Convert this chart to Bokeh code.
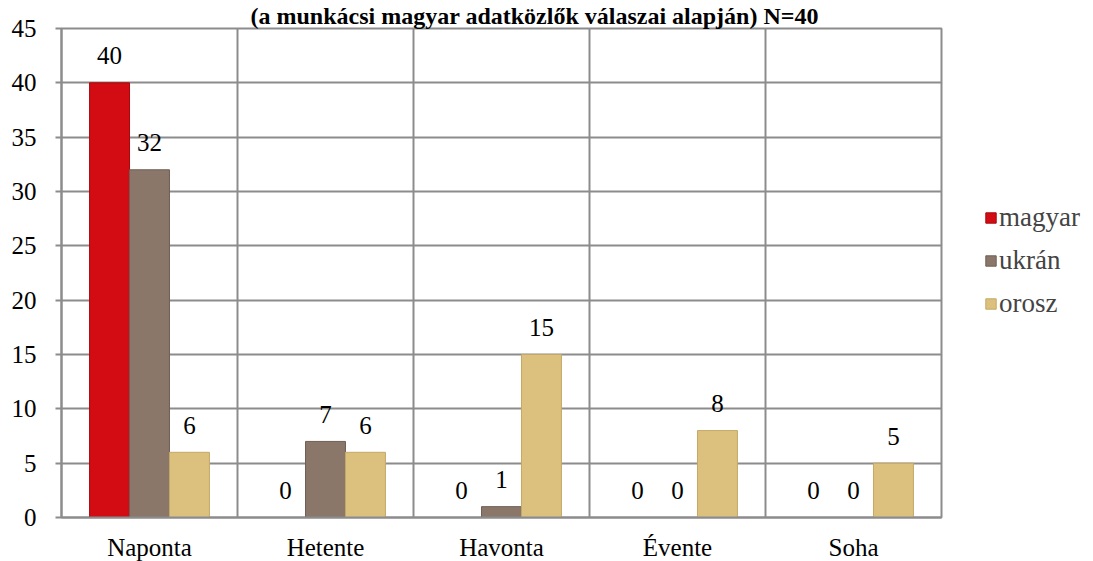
from bokeh.plotting import figure
from bokeh.models import ColumnDataSource, FactorRange, FixedTicker, Legend, LegendItem
from bokeh.transform import dodge
from bokeh.core.properties import value
from bokeh.embed import file_html
from bokeh.resources import INLINE

categories = ["Naponta", "Hetente", "Havonta", "Évente", "Soha"]
series_names = ["magyar", "ukrán", "orosz"]
magyar = [40, 0, 0, 0, 0]
ukran = [32, 7, 1, 0, 0]
orosz = [6, 6, 15, 8, 5]
y_ticks = [0, 5, 10, 15, 20, 25, 30, 35, 40, 45]
title_text = "(a munkácsi magyar adatközlők válaszai alapján) N=40"

fills = ["#d20c12", "#8b766a", "#dcc07e"]
lines = ["#a8080c", "#6f5f56", "#c4a866"]
offsets = [-0.227, 0.0, 0.227]
bar_w = 0.227
FONT = "Liberation Serif"
GRID = "#8c8c8c"
FS = "25px"

src = ColumnDataSource(dict(cat=categories, magyar=magyar, ukran=ukran, orosz=orosz,
                            magyar_t=[str(v) for v in magyar],
                            ukran_t=[str(v) for v in ukran],
                            orosz_t=[str(v) for v in orosz]))

p = figure(x_range=FactorRange(*categories), y_range=(0, 45),
           frame_width=880, frame_height=489,
           min_border_left=61, min_border_top=28, min_border_right=144, min_border_bottom=36,
           title=title_text,
           output_backend="svg", toolbar_location=None)

p.title.align = "left"
p.title.offset = 189
p.title.standoff = 0
p.title.text_font = FONT
p.title.text_font_size = "24px"
p.title.text_font_style = "bold"
p.title.text_color = "black"

p.background_fill_color = "white"
p.border_fill_color = "white"
p.outline_line_color = GRID
p.outline_line_width = 2

renderers = []
for key, f, lc, off in zip(["magyar", "ukran", "orosz"], fills, lines, offsets):
    r = p.vbar(x=dodge("cat", off, range=p.x_range), top=key, width=bar_w, source=src,
               fill_color=f, line_color=lc, line_width=1)
    renderers.append(r)
    p.text(x=dodge("cat", off, range=p.x_range), y=key, text=key + "_t", source=src,
           text_align="center", text_baseline="alphabetic", y_offset=-27,
           text_font=value(FONT), text_font_size=FS, text_color="black")

# grid
p.ygrid.ticker = FixedTicker(ticks=y_ticks)
p.ygrid.grid_line_color = GRID
p.ygrid.grid_line_width = 2
p.xgrid.ticker = FixedTicker(ticks=[0, 1, 2, 3, 4, 5])
p.xgrid.grid_line_color = GRID
p.xgrid.grid_line_width = 2

# y axis
p.yaxis.ticker = FixedTicker(ticks=y_ticks)
p.yaxis.axis_line_color = GRID
p.yaxis.axis_line_width = 2
p.yaxis.major_tick_line_color = GRID
p.yaxis.major_tick_line_width = 2
p.yaxis.major_tick_out = 6
p.yaxis.major_tick_in = 0
p.yaxis.minor_tick_line_color = None
p.yaxis.major_label_standoff = 19
p.yaxis.major_label_text_font = FONT
p.yaxis.major_label_text_font_size = FS
p.yaxis.major_label_text_color = "black"

# x axis
p.xaxis.axis_line_color = GRID
p.xaxis.axis_line_width = 2
p.xaxis.major_tick_line_color = None
p.xaxis.minor_tick_line_color = None
p.xaxis.major_label_standoff = 10
p.xaxis.major_label_text_font = FONT
p.xaxis.major_label_text_font_size = FS
p.xaxis.major_label_text_color = "black"

legend = Legend(items=[LegendItem(label=n, renderers=[r]) for n, r in zip(series_names, renderers)],
                location=(43, 198), orientation="vertical",
                glyph_width=13, glyph_height=13, label_standoff=2,
                label_text_font=FONT, label_text_font_size="27px", label_height=24,
                spacing=12, padding=0, margin=0,
                background_fill_alpha=0, border_line_alpha=0)
p.add_layout(legend, "right")

open("out.html", "w").write(file_html(p, INLINE))
